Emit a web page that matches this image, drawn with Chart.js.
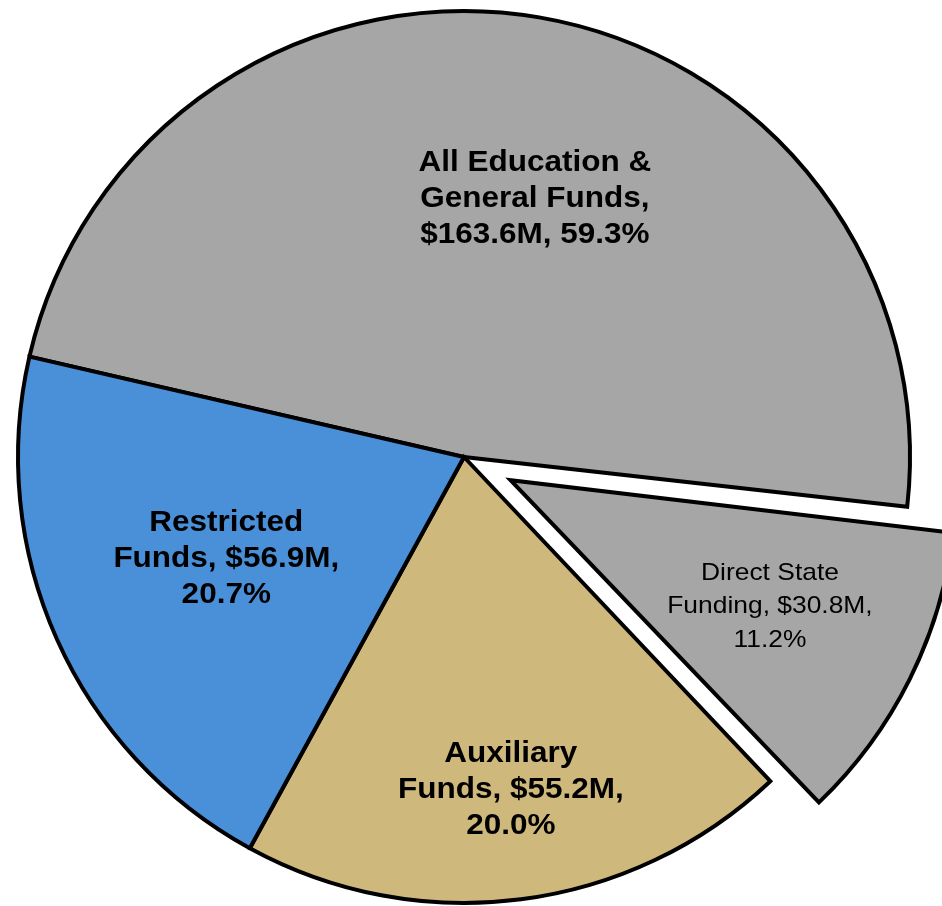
<!DOCTYPE html>
<html>
<head>
<meta charset="utf-8">
<title>Funds pie</title>
<script src="https://cdn.jsdelivr.net/npm/chart.js@4.4.0/dist/chart.umd.min.js"></script>
<style>
    html, body { margin: 0; padding: 0; background: #fff; overflow: hidden; }
    #wrap { width: 942px; height: 906px; }
</style>
</head>
<body>
<div id="wrap"><canvas id="fundsChart"></canvas></div>
<script>
// Labels and values as printed on the chart ($M and % of total)
const categories = ['All Education & General Funds', 'Direct State Funding', 'Auxiliary Funds', 'Restricted Funds'];
const amounts = [163.6, 30.8, 55.2, 56.9];
const percents = [59.3, 11.2, 20.0, 20.7];

// Direct State Funding is part of E&G, so it is cut out of the E&G slice
const sliceValues = [amounts[0] - amounts[1], amounts[1], amounts[2], amounts[3]];

const colors = ['#A5A6A5', '#A5A6A5', '#CEB87C', '#4A90D9'];

// text lines for each slice label
const labelLines = [
    ['All Education &', 'General Funds,', '$' + amounts[0].toFixed(1) + 'M, ' + percents[0].toFixed(1) + '%'],
    ['Direct State', 'Funding, $' + amounts[1].toFixed(1) + 'M,', percents[1].toFixed(1) + '%'],
    ['Auxiliary', 'Funds, $' + amounts[2].toFixed(1) + 'M,', percents[2].toFixed(1) + '%'],
    ['Restricted', 'Funds, $' + amounts[3].toFixed(1) + 'M,', percents[3].toFixed(1) + '%']
];

// label placement, as fractions of the radius from the pie centre
const labelPos = [
    { dx: 0.159, dy: -0.578, bold: true },
    { dx: 0.686, dy: 0.336, bold: false },
    { dx: 0.105, dy: 0.747, bold: true },
    { dx: -0.533, dy: 0.229, bold: true }
];

// chart.js grows an offset arc's radius a bit, undo that so the exploded slice keeps its size
const explodeFix = {
    id: 'explodeFix',
    afterUpdate(chart) {
        const meta = chart.getDatasetMeta(0);
        meta.data.forEach(arc => {
            const off = (arc.options && arc.options.offset) || 0;
            if (!off) return;
            const fix = 1 - Math.sin(Math.min(Math.PI, arc.circumference));
            arc.outerRadius -= off / 4 * fix;
        });
    }
};

const sliceLabels = {
    id: 'sliceLabels',
    afterDraw(chart) {
        const meta = chart.getDatasetMeta(0);
        const R = meta.controller.outerRadius;
        const cx = meta.data[0].x;
        const cy = meta.data[0].y;
        const ctx = chart.ctx;
        ctx.save();
        ctx.fillStyle = '#000';
        ctx.textAlign = 'center';
        ctx.textBaseline = 'middle';
        labelLines.forEach((lines, i) => {
            const p = labelPos[i];
            const x = cx + p.dx * R;
            const y = cy + p.dy * R;
            const lh = p.bold ? 36 : 33.5;
            const sx = p.bold ? 1.05 : 1.1; // the original text is a little wide
            ctx.font = p.bold ? 'bold 30px "Liberation Sans", Arial, sans-serif' : '24px "Liberation Sans", Arial, sans-serif';
            lines.forEach((t, j) => {
                ctx.save();
                ctx.translate(x, y + (j - (lines.length - 1) / 2) * lh);
                ctx.scale(sx, 1);
                ctx.fillText(t, 0, 0);
                ctx.restore();
            });
        });
        ctx.restore();
    }
};

const ctx = document.getElementById('fundsChart').getContext('2d');
const fundsChart = new Chart(ctx, {
    type: 'pie',
    data: {
        labels: categories,
        datasets: [{
            data: sliceValues,
            backgroundColor: colors,
            borderColor: '#000',
            borderWidth: 4,
            borderJoinStyle: 'miter',
            offset: [0, 208, 0, 0]
        }]
    },
    options: {
        responsive: true,
        maintainAspectRatio: false,
        animation: false,
        rotation: 283,
        radius: 446,
        layout: { padding: { left: 0, right: 14, top: 8, bottom: 0 } },
        plugins: {
            legend: { display: false },
            tooltip: { enabled: false }
        }
    },
    plugins: [explodeFix, sliceLabels]
});
</script>
</body>
</html>
